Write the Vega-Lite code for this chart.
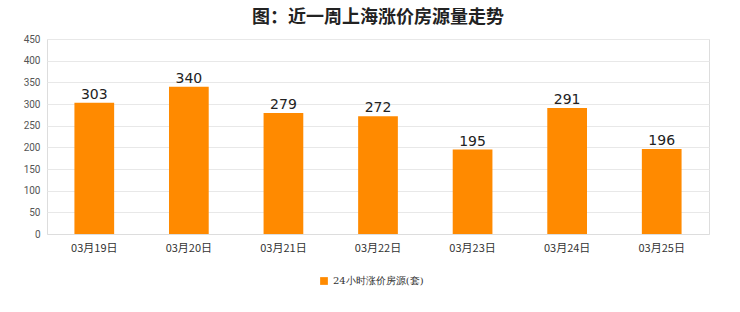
{
  "$schema": "https://vega.github.io/schema/vega-lite/v6.json",
  "autosize": "none",
  "width": 662,
  "height": 195,
  "padding": {"left": 47, "top": 39, "right": 31, "bottom": 78},
  "background": "white",
  "title": {
    "text": "图：近一周上海涨价房源量走势",
    "anchor": "middle",
    "frame": "group",
    "offset": 7,
    "fontSize": 18,
    "fontWeight": "bold",
    "font": "Noto Sans CJK SC",
    "color": "#222222"
  },
  "config": {
    "view": {"stroke": "#dddddd", "strokeWidth": 1},
    "font": "Noto Sans CJK SC"
  },
  "data": {
    "values": [
      {"date": "03月19日", "value": 303, "series": "24小时涨价房源(套)"},
      {"date": "03月20日", "value": 340, "series": "24小时涨价房源(套)"},
      {"date": "03月21日", "value": 279, "series": "24小时涨价房源(套)"},
      {"date": "03月22日", "value": 272, "series": "24小时涨价房源(套)"},
      {"date": "03月23日", "value": 195, "series": "24小时涨价房源(套)"},
      {"date": "03月24日", "value": 291, "series": "24小时涨价房源(套)"},
      {"date": "03月25日", "value": 196, "series": "24小时涨价房源(套)"}
    ]
  },
  "encoding": {
    "x": {
      "field": "date",
      "type": "nominal",
      "sort": null,
      "scale": {"paddingInner": 0.58, "paddingOuter": 0.29},
      "axis": {
        "title": null,
        "labelAngle": 0,
        "labelFontSize": 11,
        "labelColor": "#333333",
        "labelFont": "Noto Sans CJK SC",
        "domainColor": "#dddddd",
        "ticks": false,
        "labelPadding": 8
      }
    },
    "y": {
      "field": "value",
      "type": "quantitative",
      "scale": {"domain": [0, 450]},
      "axis": {
        "title": null,
        "values": [0, 50, 100, 150, 200, 250, 300, 350, 400, 450],
        "labelFontSize": 10,
        "labelColor": "#555555",
        "labelFont": "Roboto",
        "gridColor": "#e8e8e8",
        "domain": false,
        "ticks": false,
        "labelPadding": 7
      }
    }
  },
  "layer": [
    {
      "mark": {"type": "bar", "color": "#ff8a00"},
      "encoding": {
        "color": {
          "field": "series",
          "type": "nominal",
          "scale": {"range": ["#ff8a00"]},
          "legend": {
            "title": null,
            "orient": "none",
            "legendX": 272,
            "legendY": 237,
            "direction": "horizontal",
            "symbolType": "square",
            "symbolSize": 60,
            "labelFontSize": 10,
            "labelFont": "DejaVu Serif",
            "labelColor": "#333333"
          }
        }
      }
    },
    {
      "mark": {"type": "text", "dy": -8, "fontSize": 14, "color": "#222222", "font": "DejaVu Sans"},
      "encoding": {
        "text": {"field": "value", "type": "quantitative"}
      }
    }
  ]
}
